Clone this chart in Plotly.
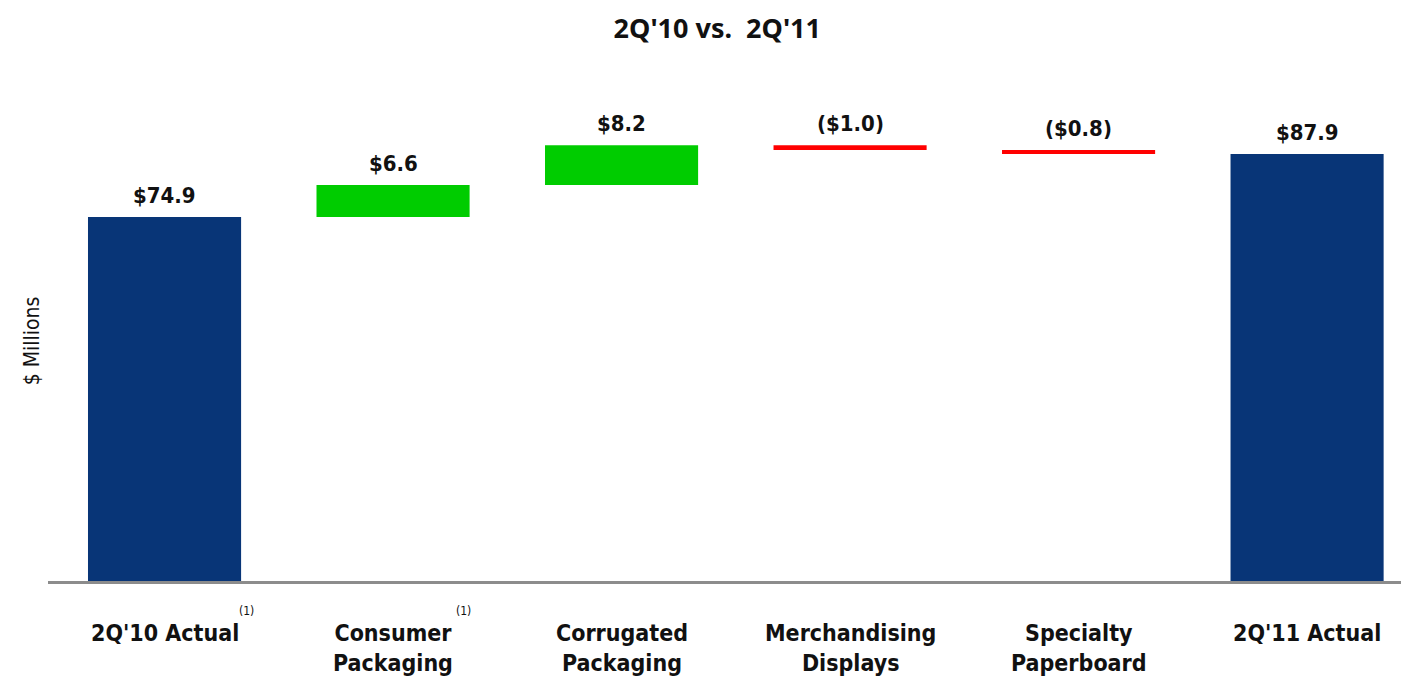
import plotly.graph_objects as go

categories = ["2Q'10 Actual", "Consumer<br>Packaging", "Corrugated<br>Packaging",
              "Merchandising<br>Displays", "Specialty<br>Paperboard", "2Q'11 Actual"]
values = [74.9, 6.6, 8.2, -1.0, -0.8, 87.9]
kinds = ["total", "delta", "delta", "delta", "delta", "total"]
labels = ["$74.9", "$6.6", "$8.2", "($1.0)", "($0.8)", "$87.9"]
footnotes = ["(1)", "(1)", "", "", "", ""]

NAVY = "#083577"
GREEN = "#00CC00"
RED = "#FF0000"
NARROW = "DejaVu Sans Condensed, Liberation Sans Narrow, Liberation Sans, sans-serif"

bases, heights, colors, tops = [], [], [], []
running = 0.0
for v, k in zip(values, kinds):
    if k == "total":
        bases.append(0)
        heights.append(v)
        colors.append(NAVY)
        running = v
        tops.append(v)
    else:
        if v >= 0:
            bases.append(running)
            heights.append(v)
            colors.append(GREEN)
            tops.append(running + v)
        else:
            bases.append(running + v)
            heights.append(-v)
            colors.append(RED)
            tops.append(running)
        running += v

xs = list(range(len(categories)))

fig = go.Figure()
fig.add_trace(go.Bar(x=xs, y=heights, base=bases, marker=dict(color=colors, line=dict(width=0)),
                     width=0.67, hoverinfo="skip"))

ann = []
for i, (t, lab) in enumerate(zip(tops, labels)):
    ann.append(dict(x=i, y=t, text="<b>%s</b>" % lab, showarrow=False, yanchor="bottom",
                    yshift=7, font=dict(family=NARROW, size=22, color="#111")))

for i, c in enumerate(categories):
    ann.append(dict(x=i, y=0, text="<b>%s</b>" % c, showarrow=False, yanchor="top",
                    yshift=-37, font=dict(family=NARROW, size=23, color="#111")))
    if footnotes[i]:
        w = {0: 0.36, 1: 0.31}[i]
        ann.append(dict(x=i + w, y=0, text=footnotes[i], showarrow=False, yanchor="top",
                        yshift=-21, font=dict(family=NARROW, size=12, color="#111")))

ann.append(dict(xref="paper", yref="paper", x=-0.012, y=0.5, text="$ Millions", textangle=-90,
                showarrow=False, xanchor="center", yanchor="middle",
                font=dict(family=NARROW, size=21, color="#111")))

fig.update_layout(
    width=1401, height=681,
    margin=dict(l=48, r=0, t=100, b=100),
    paper_bgcolor="white", plot_bgcolor="white",
    showlegend=False,
    title=dict(text="<b>2Q'10 vs.  2Q'11</b>", x=0.512, xanchor="center", y=0.958, yanchor="middle",
               font=dict(family="Noto Sans, Open Sans, sans-serif", size=27, color="#111")),
    xaxis=dict(range=[-0.51, 5.411], showticklabels=False, showgrid=False, zeroline=False,
               showline=True, linecolor="#8C8C8C", linewidth=3, ticks=""),
    yaxis=dict(range=[0, 99], showticklabels=False, showgrid=False, zeroline=False,
               showline=False, ticks=""),
    annotations=ann,
)

fig.write_html("out.html")
